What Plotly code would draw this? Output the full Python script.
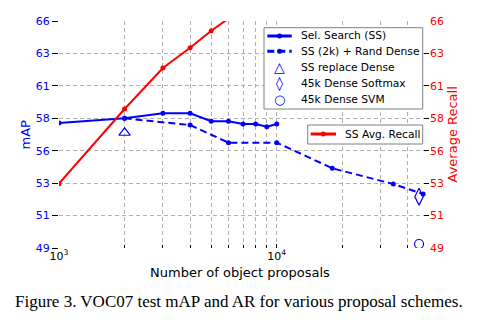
import plotly.graph_objects as go

# ---- data ----
ss_x = [1000, 2000, 3000, 4000, 5000, 6000, 7000, 8000, 9000, 10000]
ss_map = [58.36, 58.71, 59.09, 59.09, 58.49, 58.49, 58.29, 58.29, 58.08, 58.29]

rand_x = [2000, 4000, 6000, 10000, 18000, 34300, 47000]
rand_map = [58.71, 58.21, 56.89, 56.89, 54.97, 53.79, 53.04]

replace_x = [2000]
replace_map = [57.63]

softmax_x = [45000]
softmax_map = [52.84]

svm_x = [45000]
svm_map = [49.3]

ar_x = [1000, 2000, 3000, 4000, 5000, 6000]
ar_val = [53.82, 59.41, 62.48, 64.0, 65.27, 66.18]

y_tickvals = [49 + i * 17 / 7 for i in range(8)]
y_ticktext = ["49", "51", "53", "56", "58", "61", "63", "66"]

x_major_vals = [1000, 10000]
x_major_text = ["10<sup>3</sup>", "10<sup>4</sup>"]
x_minor_vals = [2000, 3000, 4000, 5000, 6000, 7000, 8000, 9000,
                20000, 30000, 40000, 50000]

legend1_labels = ["Sel. Search (SS)", "SS (2k) + Rand Dense", "SS replace Dense",
                  "45k Dense Softmax", "45k Dense SVM"]
legend2_labels = ["SS Avg. Recall"]

caption = "Figure 3. VOC07 test mAP and AR for various proposal schemes."

BLUE = "#0000ff"
RED = "#ff0000"
FONT = "DejaVu Sans"

# plot-area geometry (pixels) used to place the hand-drawn legend boxes
L, R, T, B = 59, 64, 21, 80
W, H = 493, 328
PW, PH = W - L - R, H - T - B


def px(X):
    return (X - L) / PW


def py(Y):
    return (H - B - Y) / PH


fig = go.Figure()

fig.add_trace(go.Scatter(
    x=ss_x, y=ss_map, name=legend1_labels[0], mode="lines+markers",
    line=dict(color=BLUE, width=2), marker=dict(size=5, color=BLUE),
    showlegend=False))
fig.add_trace(go.Scatter(
    x=rand_x, y=rand_map, name=legend1_labels[1], mode="lines+markers",
    line=dict(color=BLUE, width=2, dash="7px,4px"), marker=dict(size=5, color=BLUE),
    showlegend=False))
fig.add_trace(go.Scatter(
    x=replace_x, y=replace_map, name=legend1_labels[2], mode="markers",
    marker=dict(symbol="triangle-up-open", size=10, color=BLUE, line=dict(width=1.2)),
    showlegend=False))
fig.add_trace(go.Scatter(
    x=softmax_x, y=softmax_map, name=legend1_labels[3], mode="markers",
    marker=dict(symbol="diamond-tall-open", size=12, color=BLUE, line=dict(width=1.2)),
    showlegend=False))
fig.add_trace(go.Scatter(
    x=svm_x, y=svm_map, name=legend1_labels[4], mode="markers",
    marker=dict(symbol="circle-open", size=9, color=BLUE, line=dict(width=1.2)),
    showlegend=False))
fig.add_trace(go.Scatter(
    x=ar_x, y=ar_val, name=legend2_labels[0], mode="lines+markers",
    line=dict(color=RED, width=2), marker=dict(size=5, color=RED),
    yaxis="y2", showlegend=False))

grid = dict(showgrid=True, gridcolor="#b0b0b0", griddash="4px,3px", gridwidth=1)

shapes = []
annotations = []

# ---- legend 1 ----
shapes.append(dict(type="rect", xref="paper", yref="paper", layer="above",
                   x0=px(264), x1=px(422.7), y0=py(109), y1=py(27.7),
                   line=dict(color="#808080", width=1), fillcolor="white"))
rows = [36, 51.3, 67.3, 83.3, 99]
sx0, sx1, sxc, tx = 267.3, 291.7, 279.5, 299.3
for i, lab in enumerate(legend1_labels):
    yy = rows[i]
    annotations.append(dict(text=lab, xref="paper", yref="paper", x=px(tx), y=py(yy),
                            xanchor="left", yanchor="middle", showarrow=False,
                            font=dict(size=10.7, color="black", family=FONT)))
for i, dash in [(0, "solid"), (1, "7px,4px")]:
    yy = rows[i]
    shapes.append(dict(type="line", xref="paper", yref="paper", layer="above",
                       x0=px(sx0), x1=px(sx1), y0=py(yy), y1=py(yy),
                       line=dict(color=BLUE, width=3, dash=dash)))
    shapes.append(dict(type="circle", xref="paper", yref="paper", layer="above",
                       x0=px(sxc - 2.5), x1=px(sxc + 2.5), y0=py(yy + 2.5), y1=py(yy - 2.5),
                       line=dict(color=BLUE, width=0), fillcolor=BLUE))
for i, glyph, size in [(2, "\u25B3", 14), (3, "\u25CA", 14), (4, "\u25CB", 13)]:
    annotations.append(dict(text=glyph, xref="paper", yref="paper", x=px(sxc), y=py(rows[i]),
                            xanchor="center", yanchor="middle", showarrow=False,
                            font=dict(size=size, color=BLUE, family=FONT)))

# ---- legend 2 ----
shapes.append(dict(type="rect", xref="paper", yref="paper", layer="above",
                   x0=px(307.7), x1=px(422.7), y0=py(144), y1=py(125),
                   line=dict(color="#808080", width=1), fillcolor="white"))
r2 = 134
shapes.append(dict(type="line", xref="paper", yref="paper", layer="above",
                   x0=px(310.7), x1=px(336), y0=py(r2), y1=py(r2),
                   line=dict(color=RED, width=3)))
shapes.append(dict(type="circle", xref="paper", yref="paper", layer="above",
                   x0=px(323.3 - 2.5), x1=px(323.3 + 2.5), y0=py(r2 + 2.5), y1=py(r2 - 2.5),
                   line=dict(color=RED, width=0), fillcolor=RED))
annotations.append(dict(text=legend2_labels[0], xref="paper", yref="paper", x=px(342.7), y=py(r2),
                        xanchor="left", yanchor="middle", showarrow=False,
                        font=dict(size=10.7, color="black", family=FONT)))

# ---- axis titles & caption ----
annotations += [
    dict(text="mAP", xref="paper", yref="paper", x=px(25), y=0.5,
         xanchor="center", yanchor="middle",
         textangle=-90, showarrow=False, font=dict(size=13, color=BLUE, family=FONT)),
    dict(text="Average Recall", xref="paper", yref="paper", x=px(452), y=0.5,
         xanchor="center", yanchor="middle",
         textangle=-90, showarrow=False, font=dict(size=13, color=RED, family=FONT)),
    dict(text="Number of object proposals", xref="paper", yref="paper",
         x=px(239.5), y=py(272), xanchor="center", yanchor="middle",
         showarrow=False, font=dict(size=13, color="black", family=FONT)),
    dict(text=caption, xref="paper", yref="paper", x=px(238.5), y=py(301),
         xanchor="center", yanchor="middle",
         showarrow=False, font=dict(size=17, color="black", family="Liberation Serif")),
]

fig.update_layout(
    width=W, height=H,
    margin=dict(l=L, r=R, t=T, b=B),
    paper_bgcolor="white", plot_bgcolor="white",
    font=dict(family=FONT, size=11, color="black"),
    showlegend=False,
    xaxis=dict(
        type="log", range=[3, 4.69897],
        tickmode="array", tickvals=x_major_vals, ticktext=x_major_text,
        ticks="inside", ticklen=4, tickcolor="black",
        tickfont=dict(size=11, color="black"),
        minor=dict(tickmode="array", tickvals=x_minor_vals, ticks="inside",
                   ticklen=3, tickcolor="black", showgrid=True,
                   gridcolor="#b0b0b0", griddash="4px,3px", gridwidth=1),
        showline=False, zeroline=False, **grid),
    yaxis=dict(
        range=[49, 66], tickmode="array", tickvals=y_tickvals, ticktext=y_ticktext,
        ticks="outside", ticklen=6, tickcolor="black",
        tickfont=dict(size=11, color=BLUE),
        showline=False, zeroline=False, **grid),
    yaxis2=dict(
        range=[49, 66], overlaying="y", side="right",
        tickmode="array", tickvals=y_tickvals, ticktext=y_ticktext,
        ticks="inside", ticklen=5, tickcolor="black",
        tickfont=dict(size=11, color=RED),
        showgrid=False, showline=False, zeroline=False),
    shapes=shapes,
    annotations=annotations,
)

fig.write_html("out.html")
